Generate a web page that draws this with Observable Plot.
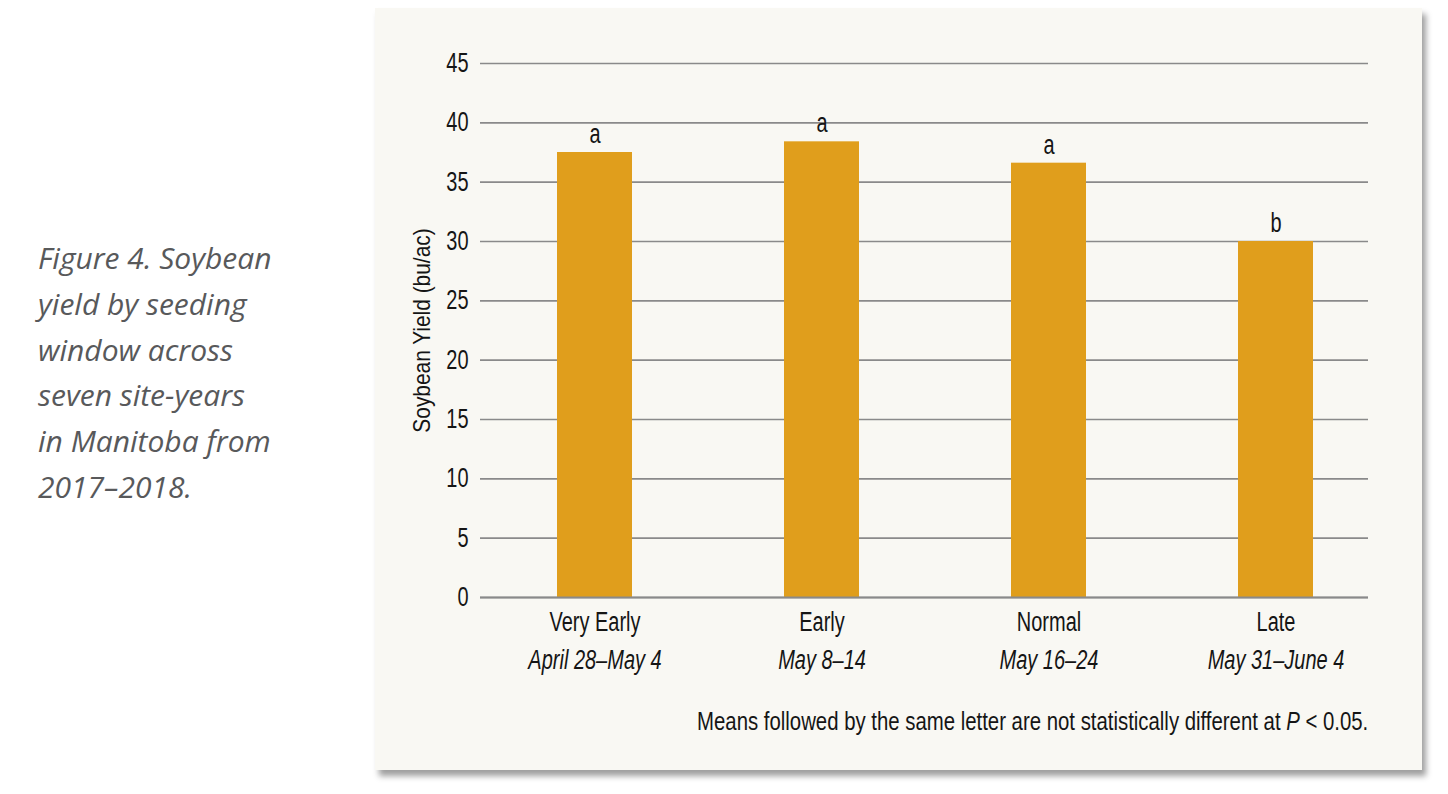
<!DOCTYPE html>
<html>
<head>
<meta charset="utf-8">
<script src="https://cdn.jsdelivr.net/npm/d3@7"></script>
<script src="https://cdn.jsdelivr.net/npm/@observablehq/plot@0.6"></script>
<style>
  html, body { margin:0; padding:0; background:#ffffff; width:1448px; height:794px; overflow:hidden; }
  #caption { position:absolute; left:38px; top:235px; font-family:"Open Sans", "Lato", sans-serif; font-style:italic; font-size:30px; line-height:45.8px; color:#58595b; letter-spacing:0px; white-space:nowrap; }
  #panel { position:absolute; left:375px; top:8px; width:1047px; height:762px; background:#f9f8f3; box-shadow: 4px 6px 6px rgba(0,0,0,0.38); }
  #chart { position:absolute; left:0; top:0; }
  #note { position:absolute; right:54px; top:698px; font-family:"Liberation Sans", Arial, sans-serif; font-size:26px; line-height:30px; color:#151515; white-space:nowrap; transform:scaleX(0.783); transform-origin:right center; }
</style>
</head>
<body>
<div id="caption">Figure 4. Soybean<br>yield by seeding<br>window across<br>seven site-years<br>in Manitoba from<br>2017–2018.</div>
<div id="panel">
  <div id="chart"></div>
  <div id="note">Means followed by the same letter are not statistically different at <i>P</i> &lt; 0.05.</div>
</div>
<script>
const categories = ["Very Early", "Early", "Normal", "Late"];
const dateRanges = ["April 28–May 4", "May 8–14", "May 16–24", "May 31–June 4"];
const yieldValues = [37.5, 38.4, 36.6, 30.0];
const letters = ["a", "a", "a", "b"];
const yTicks = [0, 5, 10, 15, 20, 25, 30, 35, 40, 45];

const data = categories.map((c, i) => ({cat: c, date: dateRanges[i], value: yieldValues[i], letter: letters[i]}));
const font = '"Liberation Sans", Arial, sans-serif';

const chart = Plot.plot({
  width: 1047,
  height: 690,
  marginLeft: 105,
  marginRight: 54,
  marginTop: 55,
  marginBottom: 101,
  style: {fontFamily: font, fontSize: "27px", color: "#151515", background: "transparent"},
  x: {domain: categories, paddingInner: 0.669, paddingOuter: 0.29, align: 0.586},
  y: {domain: [0, 45]},
  marks: [
    Plot.ruleY(yTicks, {stroke: "#8a8a8a", strokeWidth: 1.6}),
    Plot.barY(data, {x: "cat", y: "value", fill: "#e09e1c"}),
    Plot.ruleY([0], {stroke: "#8a8a8a", strokeWidth: 1.8}),
    Plot.text(data, {x: "cat", y: "value", text: "letter", dy: -18, fontSize: 27, fill: "#151515"}),
    Plot.axisY({ticks: yTicks, tickSize: 0, tickPadding: 12, fontSize: 27, label: null}),
    Plot.axisY({ticks: [], tickSize: 0, fontSize: 24, label: "Soybean Yield (bu/ac)", labelAnchor: "center", labelArrow: "none", labelOffset: 68}),
    Plot.axisX({tickSize: 0, tickPadding: 14, fontSize: 27, label: null}),
    Plot.text(data, {x: "cat", y: 0, text: "date", dy: 63, fontSize: 27, fontStyle: "italic", fill: "#151515"})
  ]
});
document.getElementById("chart").appendChild(chart);

// condense the chart text to mimic a condensed typeface
chart.querySelectorAll("text, tspan").forEach(el => {
  if (el.children.length || !el.textContent.trim()) return;
  const inLabel = el.closest("g[aria-label='y-axis label']");
  const k = inLabel ? 0.87 : 0.74;
  const len = el.getComputedTextLength();
  el.setAttribute("textLength", (len * k).toFixed(1));
  el.setAttribute("lengthAdjust", "spacingAndGlyphs");
});
</script>
</body>
</html>
